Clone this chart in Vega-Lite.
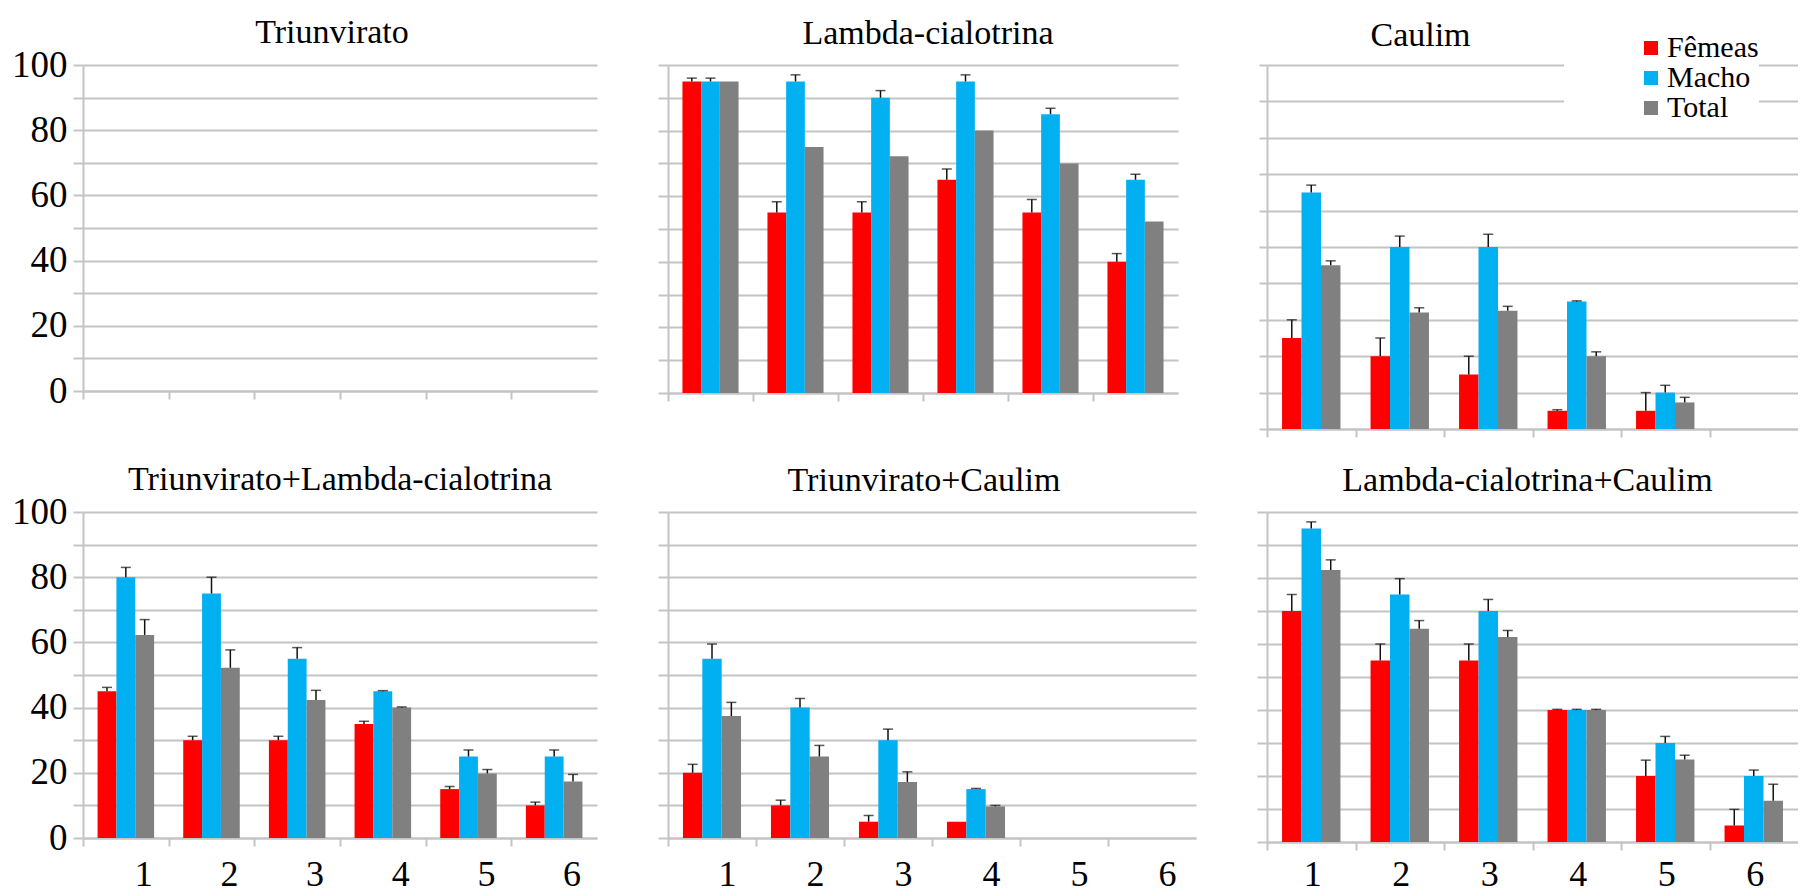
{
  "$schema": "https://vega.github.io/schema/vega-lite/v6.json",
  "padding": {"left": 11, "top": 15, "right": 0, "bottom": 0},
  "autosize": {"type": "pad"},
  "background": "white",
  "columns": 3,
  "spacing": {"row": 83, "column": 71},
  "bounds": "flush",
  "align": "each",
  "resolve": {"scale": {"color": "independent", "x": "independent", "y": "independent", "xOffset": "independent"}, "legend": {"color": "independent"}},
  "data": {"values": [
    {"panel": "T", "cat": "1", "sex": "Fêmeas", "value": 0, "hi": 0},
    {"panel": "T", "cat": "1", "sex": "Macho", "value": 0, "hi": 0},
    {"panel": "T", "cat": "1", "sex": "Total", "value": 0, "hi": 0},
    {"panel": "T", "cat": "2", "sex": "Fêmeas", "value": 0, "hi": 0},
    {"panel": "T", "cat": "2", "sex": "Macho", "value": 0, "hi": 0},
    {"panel": "T", "cat": "2", "sex": "Total", "value": 0, "hi": 0},
    {"panel": "T", "cat": "3", "sex": "Fêmeas", "value": 0, "hi": 0},
    {"panel": "T", "cat": "3", "sex": "Macho", "value": 0, "hi": 0},
    {"panel": "T", "cat": "3", "sex": "Total", "value": 0, "hi": 0},
    {"panel": "T", "cat": "4", "sex": "Fêmeas", "value": 0, "hi": 0},
    {"panel": "T", "cat": "4", "sex": "Macho", "value": 0, "hi": 0},
    {"panel": "T", "cat": "4", "sex": "Total", "value": 0, "hi": 0},
    {"panel": "T", "cat": "5", "sex": "Fêmeas", "value": 0, "hi": 0},
    {"panel": "T", "cat": "5", "sex": "Macho", "value": 0, "hi": 0},
    {"panel": "T", "cat": "5", "sex": "Total", "value": 0, "hi": 0},
    {"panel": "T", "cat": "6", "sex": "Fêmeas", "value": 0, "hi": 0},
    {"panel": "T", "cat": "6", "sex": "Macho", "value": 0, "hi": 0},
    {"panel": "T", "cat": "6", "sex": "Total", "value": 0, "hi": 0},

    {"panel": "L", "cat": "1", "sex": "Fêmeas", "value": 95, "hi": 96},
    {"panel": "L", "cat": "1", "sex": "Macho", "value": 95, "hi": 96},
    {"panel": "L", "cat": "1", "sex": "Total", "value": 95, "hi": 95},
    {"panel": "L", "cat": "2", "sex": "Fêmeas", "value": 55, "hi": 58.3},
    {"panel": "L", "cat": "2", "sex": "Macho", "value": 95, "hi": 97},
    {"panel": "L", "cat": "2", "sex": "Total", "value": 75, "hi": 75},
    {"panel": "L", "cat": "3", "sex": "Fêmeas", "value": 55, "hi": 58.3},
    {"panel": "L", "cat": "3", "sex": "Macho", "value": 90, "hi": 92.2},
    {"panel": "L", "cat": "3", "sex": "Total", "value": 72.2, "hi": 72.2},
    {"panel": "L", "cat": "4", "sex": "Fêmeas", "value": 65, "hi": 68.3},
    {"panel": "L", "cat": "4", "sex": "Macho", "value": 95, "hi": 97},
    {"panel": "L", "cat": "4", "sex": "Total", "value": 80, "hi": 80},
    {"panel": "L", "cat": "5", "sex": "Fêmeas", "value": 55, "hi": 59},
    {"panel": "L", "cat": "5", "sex": "Macho", "value": 85, "hi": 86.8},
    {"panel": "L", "cat": "5", "sex": "Total", "value": 70, "hi": 70},
    {"panel": "L", "cat": "6", "sex": "Fêmeas", "value": 40, "hi": 42.5},
    {"panel": "L", "cat": "6", "sex": "Macho", "value": 65, "hi": 66.7},
    {"panel": "L", "cat": "6", "sex": "Total", "value": 52.3, "hi": 52.3},

    {"panel": "C", "cat": "1", "sex": "Fêmeas", "value": 25, "hi": 30},
    {"panel": "C", "cat": "1", "sex": "Macho", "value": 65, "hi": 67},
    {"panel": "C", "cat": "1", "sex": "Total", "value": 45, "hi": 46.2},
    {"panel": "C", "cat": "2", "sex": "Fêmeas", "value": 20, "hi": 25},
    {"panel": "C", "cat": "2", "sex": "Macho", "value": 50, "hi": 53},
    {"panel": "C", "cat": "2", "sex": "Total", "value": 32, "hi": 33.3},
    {"panel": "C", "cat": "3", "sex": "Fêmeas", "value": 15, "hi": 20},
    {"panel": "C", "cat": "3", "sex": "Macho", "value": 50, "hi": 53.5},
    {"panel": "C", "cat": "3", "sex": "Total", "value": 32.5, "hi": 33.7},
    {"panel": "C", "cat": "4", "sex": "Fêmeas", "value": 5, "hi": 5.3},
    {"panel": "C", "cat": "4", "sex": "Macho", "value": 35, "hi": 35.2},
    {"panel": "C", "cat": "4", "sex": "Total", "value": 20, "hi": 21.2},
    {"panel": "C", "cat": "5", "sex": "Fêmeas", "value": 5, "hi": 10},
    {"panel": "C", "cat": "5", "sex": "Macho", "value": 10, "hi": 12},
    {"panel": "C", "cat": "5", "sex": "Total", "value": 7.3, "hi": 8.7},
    {"panel": "C", "cat": "6", "sex": "Fêmeas", "value": 0, "hi": 0},
    {"panel": "C", "cat": "6", "sex": "Macho", "value": 0, "hi": 0},
    {"panel": "C", "cat": "6", "sex": "Total", "value": 0, "hi": 0},

    {"panel": "TL", "cat": "1", "sex": "Fêmeas", "value": 45, "hi": 46.2},
    {"panel": "TL", "cat": "1", "sex": "Macho", "value": 80, "hi": 83},
    {"panel": "TL", "cat": "1", "sex": "Total", "value": 62.3, "hi": 67},
    {"panel": "TL", "cat": "2", "sex": "Fêmeas", "value": 30, "hi": 31.2},
    {"panel": "TL", "cat": "2", "sex": "Macho", "value": 75, "hi": 80},
    {"panel": "TL", "cat": "2", "sex": "Total", "value": 52.2, "hi": 57.7},
    {"panel": "TL", "cat": "3", "sex": "Fêmeas", "value": 30, "hi": 31.2},
    {"panel": "TL", "cat": "3", "sex": "Macho", "value": 55, "hi": 58.4},
    {"panel": "TL", "cat": "3", "sex": "Total", "value": 42.3, "hi": 45.3},
    {"panel": "TL", "cat": "4", "sex": "Fêmeas", "value": 35, "hi": 35.8},
    {"panel": "TL", "cat": "4", "sex": "Macho", "value": 45, "hi": 45.2},
    {"panel": "TL", "cat": "4", "sex": "Total", "value": 40, "hi": 40.2},
    {"panel": "TL", "cat": "5", "sex": "Fêmeas", "value": 15, "hi": 15.8},
    {"panel": "TL", "cat": "5", "sex": "Macho", "value": 25, "hi": 27},
    {"panel": "TL", "cat": "5", "sex": "Total", "value": 19.8, "hi": 21},
    {"panel": "TL", "cat": "6", "sex": "Fêmeas", "value": 10, "hi": 11},
    {"panel": "TL", "cat": "6", "sex": "Macho", "value": 25, "hi": 27},
    {"panel": "TL", "cat": "6", "sex": "Total", "value": 17.3, "hi": 19.5},

    {"panel": "TC", "cat": "1", "sex": "Fêmeas", "value": 20, "hi": 22.6},
    {"panel": "TC", "cat": "1", "sex": "Macho", "value": 55, "hi": 59.5},
    {"panel": "TC", "cat": "1", "sex": "Total", "value": 37.4, "hi": 41.6},
    {"panel": "TC", "cat": "2", "sex": "Fêmeas", "value": 10, "hi": 11.6},
    {"panel": "TC", "cat": "2", "sex": "Macho", "value": 40, "hi": 42.8},
    {"panel": "TC", "cat": "2", "sex": "Total", "value": 25, "hi": 28.4},
    {"panel": "TC", "cat": "3", "sex": "Fêmeas", "value": 5, "hi": 6.9},
    {"panel": "TC", "cat": "3", "sex": "Macho", "value": 30, "hi": 33.4},
    {"panel": "TC", "cat": "3", "sex": "Total", "value": 17.2, "hi": 20.3},
    {"panel": "TC", "cat": "4", "sex": "Fêmeas", "value": 5, "hi": 5},
    {"panel": "TC", "cat": "4", "sex": "Macho", "value": 15, "hi": 15.2},
    {"panel": "TC", "cat": "4", "sex": "Total", "value": 9.7, "hi": 10},
    {"panel": "TC", "cat": "5", "sex": "Fêmeas", "value": 0, "hi": 0},
    {"panel": "TC", "cat": "5", "sex": "Macho", "value": 0, "hi": 0},
    {"panel": "TC", "cat": "5", "sex": "Total", "value": 0, "hi": 0},
    {"panel": "TC", "cat": "6", "sex": "Fêmeas", "value": 0, "hi": 0},
    {"panel": "TC", "cat": "6", "sex": "Macho", "value": 0, "hi": 0},
    {"panel": "TC", "cat": "6", "sex": "Total", "value": 0, "hi": 0},

    {"panel": "LC", "cat": "1", "sex": "Fêmeas", "value": 70, "hi": 75},
    {"panel": "LC", "cat": "1", "sex": "Macho", "value": 95, "hi": 97},
    {"panel": "LC", "cat": "1", "sex": "Total", "value": 82.4, "hi": 85.5},
    {"panel": "LC", "cat": "2", "sex": "Fêmeas", "value": 55, "hi": 60},
    {"panel": "LC", "cat": "2", "sex": "Macho", "value": 75, "hi": 79.8},
    {"panel": "LC", "cat": "2", "sex": "Total", "value": 64.6, "hi": 67.1},
    {"panel": "LC", "cat": "3", "sex": "Fêmeas", "value": 55, "hi": 60},
    {"panel": "LC", "cat": "3", "sex": "Macho", "value": 70, "hi": 73.5},
    {"panel": "LC", "cat": "3", "sex": "Total", "value": 62.1, "hi": 64.1},
    {"panel": "LC", "cat": "4", "sex": "Fêmeas", "value": 40, "hi": 40.2},
    {"panel": "LC", "cat": "4", "sex": "Macho", "value": 40, "hi": 40.2},
    {"panel": "LC", "cat": "4", "sex": "Total", "value": 40, "hi": 40.2},
    {"panel": "LC", "cat": "5", "sex": "Fêmeas", "value": 20, "hi": 24.8},
    {"panel": "LC", "cat": "5", "sex": "Macho", "value": 30, "hi": 32},
    {"panel": "LC", "cat": "5", "sex": "Total", "value": 25, "hi": 26.3},
    {"panel": "LC", "cat": "6", "sex": "Fêmeas", "value": 5, "hi": 9.9},
    {"panel": "LC", "cat": "6", "sex": "Macho", "value": 20, "hi": 21.8},
    {"panel": "LC", "cat": "6", "sex": "Total", "value": 12.5, "hi": 17.5}
  ]},
  "concat": [
    {
      "title": {"text": "Triunvirato", "dx": -8, "offset": -3.5},
      "width": 514, "height": 326,
      "transform": [{"filter": "datum.panel === 'T'"}],
      "encoding": {
        "x": {"field": "cat", "type": "nominal", "scale": {"domain": ["1","2","3","4","5","6"], "paddingInner": 0.34, "paddingOuter": 0.17},
              "axis": {"title": null, "labels": false, "bandPosition": 0, "tickOffset": -14.6, "tickSize": 8, "grid": false}},
        "xOffset": {"field": "sex", "type": "nominal", "scale": {"domain": ["Fêmeas","Macho","Total"]}}
      },
      "layer": [
        {"mark": {"type": "bar"},
         "encoding": {
           "y": {"field": "value", "type": "quantitative", "scale": {"domain": [0, 100]},
                 "axis": {"title": null, "values": [0,10,20,30,40,50,60,70,80,90,100], "tickCount": 11, "labelExpr": "datum.value % 20 == 0 ? datum.label : ''", "labelFontSize": 37, "labelFont": "Liberation Serif", "labelPadding": 6, "tickSize": 10, "grid": true}},
           "color": {"field": "sex", "type": "nominal", "scale": {"domain": ["Fêmeas","Macho","Total"], "range": ["#ff0000","#00b0f0","#808080"]}, "legend": null}}},
        {"transform": [{"filter": "datum.hi > datum.value"}],
         "mark": {"type": "rule", "color": "#111111", "strokeWidth": 1.5},
         "encoding": {"y": {"field": "value", "type": "quantitative",
                 "axis": {"title": null, "values": [0,10,20,30,40,50,60,70,80,90,100], "tickCount": 11, "labelExpr": "datum.value % 20 == 0 ? datum.label : ''", "labelFontSize": 37, "labelFont": "Liberation Serif", "labelPadding": 6, "tickSize": 10, "grid": true}}, "y2": {"field": "hi"}}},
        {"transform": [{"filter": "datum.hi > datum.value"}],
         "mark": {"type": "tick", "color": "#111111", "thickness": 1.5, "size": 10},
         "encoding": {"y": {"field": "hi", "type": "quantitative",
                 "axis": {"title": null, "values": [0,10,20,30,40,50,60,70,80,90,100], "tickCount": 11, "labelExpr": "datum.value % 20 == 0 ? datum.label : ''", "labelFontSize": 37, "labelFont": "Liberation Serif", "labelPadding": 6, "tickSize": 10, "grid": true}}}}
      ]
    },
    {
      "title": {"text": "Lambda-cialotrina", "dx": 5, "offset": 13},
      "width": 510, "height": 328,
      "transform": [{"filter": "datum.panel === 'L'"}],
      "encoding": {
        "x": {"field": "cat", "type": "nominal", "scale": {"domain": ["1","2","3","4","5","6"], "paddingInner": 0.34, "paddingOuter": 0.17},
              "axis": {"title": null, "labels": false, "bandPosition": 0, "tickOffset": -14.45, "tickSize": 8, "grid": false}},
        "xOffset": {"field": "sex", "type": "nominal", "scale": {"domain": ["Fêmeas","Macho","Total"]}}
      },
      "layer": [
        {"mark": {"type": "bar"},
         "encoding": {
           "y": {"field": "value", "type": "quantitative", "scale": {"domain": [0, 100]},
                 "axis": {"title": null, "values": [0,10,20,30,40,50,60,70,80,90,100], "tickCount": 11, "labels": false, "tickSize": 10, "grid": true}},
           "color": {"field": "sex", "type": "nominal", "scale": {"domain": ["Fêmeas","Macho","Total"], "range": ["#ff0000","#00b0f0","#808080"]}, "legend": null}}},
        {"transform": [{"filter": "datum.hi > datum.value"}],
         "mark": {"type": "rule", "color": "#111111", "strokeWidth": 1.5},
         "encoding": {"y": {"field": "value", "type": "quantitative",
                 "axis": {"title": null, "values": [0,10,20,30,40,50,60,70,80,90,100], "tickCount": 11, "labels": false, "tickSize": 10, "grid": true}}, "y2": {"field": "hi"}}},
        {"transform": [{"filter": "datum.hi > datum.value"}],
         "mark": {"type": "tick", "color": "#111111", "thickness": 1.5, "size": 10},
         "encoding": {"y": {"field": "hi", "type": "quantitative",
                 "axis": {"title": null, "values": [0,10,20,30,40,50,60,70,80,90,100], "tickCount": 11, "labels": false, "tickSize": 10, "grid": true}}}}
      ]
    },
    {
      "title": {"text": "Caulim", "dx": -112, "offset": -20},
      "width": 531, "height": 364,
      "transform": [{"filter": "datum.panel === 'C'"}],
      "encoding": {
        "x": {"field": "cat", "type": "nominal", "scale": {"domain": ["1","2","3","4","5","6"], "paddingInner": 0.34, "paddingOuter": 0.17},
              "axis": {"title": null, "labels": false, "bandPosition": 0, "tickOffset": -15, "tickSize": 8, "grid": false}},
        "xOffset": {"field": "sex", "type": "nominal", "scale": {"domain": ["Fêmeas","Macho","Total"]}}
      },
      "layer": [
        {"mark": {"type": "bar"},
         "encoding": {
           "y": {"field": "value", "type": "quantitative", "scale": {"domain": [0, 100]},
                 "axis": {"title": null, "values": [0,10,20,30,40,50,60,70,80,90,100], "tickCount": 11, "labels": false, "tickSize": 8, "grid": true}},
           "color": {"field": "sex", "type": "nominal", "scale": {"domain": ["Fêmeas","Macho","Total"], "range": ["#ff0000","#00b0f0","#808080"]},
                     "legend": {"orient": "none", "direction": "vertical", "legendX": 297, "legendY": -32, "title": null, "symbolType": "square", "symbolSize": 196, "symbolStrokeWidth": 0, "symbolOffset": 72, "labelFontSize": 30, "labelFont": "Liberation Serif", "labelColor": "#000000", "labelOffset": 1, "rowPadding": 0, "padding": 0, "fillColor": "white"}}}},
        {"transform": [{"filter": "datum.hi > datum.value"}],
         "mark": {"type": "rule", "color": "#111111", "strokeWidth": 1.5},
         "encoding": {"y": {"field": "value", "type": "quantitative",
                 "axis": {"title": null, "values": [0,10,20,30,40,50,60,70,80,90,100], "tickCount": 11, "labels": false, "tickSize": 8, "grid": true}}, "y2": {"field": "hi"}}},
        {"transform": [{"filter": "datum.hi > datum.value"}],
         "mark": {"type": "tick", "color": "#111111", "thickness": 1.5, "size": 10},
         "encoding": {"y": {"field": "hi", "type": "quantitative",
                 "axis": {"title": null, "values": [0,10,20,30,40,50,60,70,80,90,100], "tickCount": 11, "labels": false, "tickSize": 8, "grid": true}}}}
      ]
    },
    {
      "title": {"text": "Triunvirato+Lambda-cialotrina", "offset": -3.5},
      "width": 514, "height": 326,
      "transform": [{"filter": "datum.panel === 'TL'"}],
      "encoding": {
        "x": {"field": "cat", "type": "nominal", "scale": {"domain": ["1","2","3","4","5","6"], "paddingInner": 0.34, "paddingOuter": 0.17},
              "axis": {"title": null, "labelAngle": 0, "labelFontSize": 36, "labelFont": "Liberation Serif", "labelBaseline": "middle", "labelPadding": 28, "labelOffset": 32, "bandPosition": 0, "tickOffset": -14.6, "tickSize": 8, "grid": false}},
        "xOffset": {"field": "sex", "type": "nominal", "scale": {"domain": ["Fêmeas","Macho","Total"]}}
      },
      "layer": [
        {"mark": {"type": "bar"},
         "encoding": {
           "y": {"field": "value", "type": "quantitative", "scale": {"domain": [0, 100]},
                 "axis": {"title": null, "values": [0,10,20,30,40,50,60,70,80,90,100], "tickCount": 11, "labelExpr": "datum.value % 20 == 0 ? datum.label : ''", "labelFontSize": 37, "labelFont": "Liberation Serif", "labelPadding": 6, "tickSize": 10, "grid": true}},
           "color": {"field": "sex", "type": "nominal", "scale": {"domain": ["Fêmeas","Macho","Total"], "range": ["#ff0000","#00b0f0","#808080"]}, "legend": null}}},
        {"transform": [{"filter": "datum.hi > datum.value"}],
         "mark": {"type": "rule", "color": "#111111", "strokeWidth": 1.5},
         "encoding": {"y": {"field": "value", "type": "quantitative",
                 "axis": {"title": null, "values": [0,10,20,30,40,50,60,70,80,90,100], "tickCount": 11, "labelExpr": "datum.value % 20 == 0 ? datum.label : ''", "labelFontSize": 37, "labelFont": "Liberation Serif", "labelPadding": 6, "tickSize": 10, "grid": true}}, "y2": {"field": "hi"}}},
        {"transform": [{"filter": "datum.hi > datum.value"}],
         "mark": {"type": "tick", "color": "#111111", "thickness": 1.5, "size": 10},
         "encoding": {"y": {"field": "hi", "type": "quantitative",
                 "axis": {"title": null, "values": [0,10,20,30,40,50,60,70,80,90,100], "tickCount": 11, "labelExpr": "datum.value % 20 == 0 ? datum.label : ''", "labelFontSize": 37, "labelFont": "Liberation Serif", "labelPadding": 6, "tickSize": 10, "grid": true}}}}
      ]
    },
    {
      "title": {"text": "Triunvirato+Caulim", "dx": -8, "offset": 13},
      "width": 528, "height": 326,
      "transform": [{"filter": "datum.panel === 'TC'"}],
      "encoding": {
        "x": {"field": "cat", "type": "nominal", "scale": {"domain": ["1","2","3","4","5","6"], "paddingInner": 0.34, "paddingOuter": 0.17},
              "axis": {"title": null, "labelAngle": 0, "labelFontSize": 36, "labelFont": "Liberation Serif", "labelBaseline": "middle", "labelPadding": 28, "labelOffset": 30, "bandPosition": 0, "tickOffset": -15, "tickSize": 8, "grid": false}},
        "xOffset": {"field": "sex", "type": "nominal", "scale": {"domain": ["Fêmeas","Macho","Total"]}}
      },
      "layer": [
        {"mark": {"type": "bar"},
         "encoding": {
           "y": {"field": "value", "type": "quantitative", "scale": {"domain": [0, 100]},
                 "axis": {"title": null, "values": [0,10,20,30,40,50,60,70,80,90,100], "tickCount": 11, "labels": false, "tickSize": 10, "grid": true}},
           "color": {"field": "sex", "type": "nominal", "scale": {"domain": ["Fêmeas","Macho","Total"], "range": ["#ff0000","#00b0f0","#808080"]}, "legend": null}}},
        {"transform": [{"filter": "datum.hi > datum.value"}],
         "mark": {"type": "rule", "color": "#111111", "strokeWidth": 1.5},
         "encoding": {"y": {"field": "value", "type": "quantitative",
                 "axis": {"title": null, "values": [0,10,20,30,40,50,60,70,80,90,100], "tickCount": 11, "labels": false, "tickSize": 10, "grid": true}}, "y2": {"field": "hi"}}},
        {"transform": [{"filter": "datum.hi > datum.value"}],
         "mark": {"type": "tick", "color": "#111111", "thickness": 1.5, "size": 10},
         "encoding": {"y": {"field": "hi", "type": "quantitative",
                 "axis": {"title": null, "values": [0,10,20,30,40,50,60,70,80,90,100], "tickCount": 11, "labels": false, "tickSize": 10, "grid": true}}}}
      ]
    },
    {
      "title": {"text": "Lambda-cialotrina+Caulim", "dx": -5, "offset": 13},
      "width": 531, "height": 330,
      "transform": [{"filter": "datum.panel === 'LC'"}],
      "encoding": {
        "x": {"field": "cat", "type": "nominal", "scale": {"domain": ["1","2","3","4","5","6"], "paddingInner": 0.34, "paddingOuter": 0.17},
              "axis": {"title": null, "labelAngle": 0, "labelFontSize": 36, "labelFont": "Liberation Serif", "labelBaseline": "middle", "labelPadding": 24, "labelOffset": 16, "bandPosition": 0, "tickOffset": -15, "tickSize": 8, "grid": false}},
        "xOffset": {"field": "sex", "type": "nominal", "scale": {"domain": ["Fêmeas","Macho","Total"]}}
      },
      "layer": [
        {"mark": {"type": "bar"},
         "encoding": {
           "y": {"field": "value", "type": "quantitative", "scale": {"domain": [0, 100]},
                 "axis": {"title": null, "values": [0,10,20,30,40,50,60,70,80,90,100], "tickCount": 11, "labels": false, "tickSize": 10, "grid": true}},
           "color": {"field": "sex", "type": "nominal", "scale": {"domain": ["Fêmeas","Macho","Total"], "range": ["#ff0000","#00b0f0","#808080"]}, "legend": null}}},
        {"transform": [{"filter": "datum.hi > datum.value"}],
         "mark": {"type": "rule", "color": "#111111", "strokeWidth": 1.5},
         "encoding": {"y": {"field": "value", "type": "quantitative",
                 "axis": {"title": null, "values": [0,10,20,30,40,50,60,70,80,90,100], "tickCount": 11, "labels": false, "tickSize": 10, "grid": true}}, "y2": {"field": "hi"}}},
        {"transform": [{"filter": "datum.hi > datum.value"}],
         "mark": {"type": "tick", "color": "#111111", "thickness": 1.5, "size": 10},
         "encoding": {"y": {"field": "hi", "type": "quantitative",
                 "axis": {"title": null, "values": [0,10,20,30,40,50,60,70,80,90,100], "tickCount": 11, "labels": false, "tickSize": 10, "grid": true}}}}
      ]
    }
  ],
  "config": {
    "view": {"stroke": null},
    "font": "Liberation Serif",
    "axis": {"domainColor": "#c4c4c4", "domainWidth": 2, "tickColor": "#c4c4c4", "tickWidth": 2, "gridColor": "#c4c4c4", "gridWidth": 2, "labelColor": "#000000", "labelFont": "Liberation Serif"},
    "title": {"font": "Liberation Serif", "fontSize": 34, "fontWeight": "normal", "color": "#000000", "baseline": "alphabetic", "anchor": "middle", "frame": "group"},
    "legend": {"labelFont": "Liberation Serif"},
    "style": {"guide-label": {"font": "Liberation Serif"}, "guide-title": {"font": "Liberation Serif"}}
  }
}
